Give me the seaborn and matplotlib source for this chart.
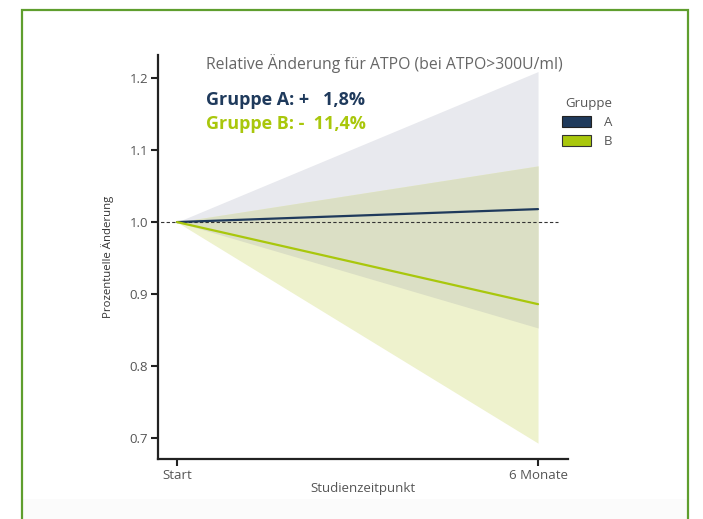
import matplotlib
matplotlib.use("Agg")
import matplotlib.pyplot as plt
from matplotlib.patches import Rectangle, Patch
import numpy as np
import pandas as pd
import seaborn as sns

# Study time points and relative change per group
timepoints = ["Start", "6 Monate"]
t = [0, 1]
a_mean = [1.0, 1.018]
a_low = [1.0, 0.853]
a_high = [1.0, 1.209]
b_mean = [1.0, 0.886]
b_low = [1.0, 0.693]
b_high = [1.0, 1.078]
groups = ["A", "B"]
yticks = [0.7, 0.8, 0.9, 1.0, 1.1, 1.2]

col_a = "#1f3a5c"
col_b = "#a9c70c"
fill_a = "#e8e9ee"
fill_b = "#eef2cd"
fill_ab = "#dbdfc5"

sns.set_theme(style="white")
plt.rcParams["font.family"] = ["Open Sans", "DejaVu Sans"]

df = pd.DataFrame({
    "t": t + t,
    "val": a_mean + b_mean,
    "Gruppe": [groups[0]] * 2 + [groups[1]] * 2,
})

fig = plt.figure(figsize=(7.03, 5.19), dpi=100)
ax = fig.add_axes([158 / 703, 1 - 459 / 519, (568 - 158) / 703, (459 - 55) / 519])

# Confidence ribbons: each group alone, then their overlap
ax.fill_between(t, a_low, a_high, color=fill_a, lw=0, zorder=1)
ax.fill_between(t, b_low, b_high, color=fill_b, lw=0, zorder=2)
ax.fill_between(t, np.maximum(a_low, b_low), np.minimum(a_high, b_high),
                color=fill_ab, lw=0, zorder=2.5)
ax.plot([-0.06, 1.055], [1.0, 1.0], ls=(0, (3, 2)), color="#333333", lw=0.8, zorder=3)
sns.lineplot(data=df, x="t", y="val", hue="Gruppe", palette={"A": col_a, "B": col_b},
             linewidth=1.6, legend=False, ax=ax, zorder=4)

ax.set_xlim(-0.0526, 1.083)
ax.set_ylim(0.671, 1.232)
ax.set_xticks(t)
ax.set_xticklabels(timepoints)
ax.set_yticks(yticks)
ax.set_yticklabels([f"{v:.1f}" for v in yticks])
ax.tick_params(axis="both", direction="out", length=5, width=1.5, color="#222222",
               labelsize=9.5, labelcolor="#555555", pad=2,
               bottom=True, left=True)
for side in ["top", "right"]:
    ax.spines[side].set_visible(False)
for side in ["left", "bottom"]:
    ax.spines[side].set_color("#222222")
    ax.spines[side].set_linewidth(1.6)
ax.set_xlabel("Studienzeitpunkt", fontsize=9.5, color="#555555", labelpad=0)
ax.set_ylabel("Prozentuelle Änderung", fontsize=8.2, color="#333333", labelpad=11)
ax.set_facecolor("white")

# Headline texts
fig.text(206 / 703, 1 - 64 / 519, "Relative Änderung für ATPO (bei ATPO>300U/ml)",
         fontsize=11.3, color="#666666", va="center", ha="left")
fig.text(206 / 703, 1 - 100 / 519, "Gruppe A: +   1,8%", fontsize=13, fontweight="bold",
         color=col_a, va="center", ha="left")
fig.text(206 / 703, 1 - 124 / 519, "Gruppe B: -  11,4%", fontsize=13, fontweight="bold",
         color=col_b, va="center", ha="left")

# Legend
handles = [Patch(facecolor=col_a, edgecolor="#222222", lw=0.8, label="A"),
           Patch(facecolor=col_b, edgecolor="#333333", lw=0.8, label="B")]
leg = fig.legend(handles=handles, title="Gruppe", loc="upper left",
                 bbox_to_anchor=(550 / 703, 1 - 85 / 519), frameon=False,
                 fontsize=9.5, title_fontsize=9.5, handlelength=2.2, handleheight=0.9,
                 handletextpad=1.0, labelspacing=0.45)
leg._legend_box.align = "right"
for txt in leg.get_texts():
    txt.set_color("#555555")
leg.get_title().set_color("#555555")

# Faint bottom band and green frame
fig.patches.append(Rectangle((22 / 703, 0), (688 - 22) / 703, 20 / 519,
                             transform=fig.transFigure, facecolor="#fbfbfb",
                             edgecolor="none", zorder=-1))
fig.patches.append(Rectangle((22 / 703, -0.05), (688 - 22) / 703, 1.05 - 10 / 519,
                             transform=fig.transFigure, facecolor="none",
                             edgecolor="#5f9e2e", lw=1.6, zorder=5))

fig.savefig("out.png", dpi=100, facecolor="white")
